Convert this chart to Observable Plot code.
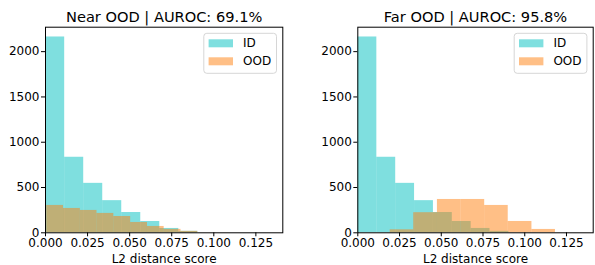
<!DOCTYPE html>
<html><head><meta charset="utf-8">
<script src="https://cdn.jsdelivr.net/npm/d3@7"></script>
<script src="https://cdn.jsdelivr.net/npm/@observablehq/plot@0.6"></script>
<style>
body{margin:0;background:#fff;}
#wrap{position:relative;width:595px;height:265px;display:flex;background:#fff;}
#wrap svg{font-family:"DejaVu Sans",sans-serif;color:#000;background:#fff;overflow:visible;}
</style></head><body><div id="wrap"></div>
<script>
// ---- data ----
const idEdges = [0.0001, 0.0114, 0.0227, 0.0340, 0.0453, 0.0566, 0.0679, 0.0792, 0.0905];
const idCounts = [2162, 834, 546, 355, 224, 125, 48, 16];
const nearEdges = [0.0007, 0.0107, 0.0207, 0.0306, 0.0406, 0.0506, 0.0606, 0.0705, 0.0805, 0.0905];
const nearCounts = [302, 269, 247, 214, 180, 114, 70, 38, 16];
const farEdges = [0.0194, 0.0335, 0.0477, 0.0618, 0.0760, 0.0901, 0.1043, 0.1184];
const farCounts = [33, 222, 368, 368, 302, 125, 37];
const titles = ["Near OOD | AUROC: 69.1%", "Far OOD | AUROC: 95.8%"];
const seriesNames = ["ID", "OOD"];
const xTicks = [0, 0.025, 0.05, 0.075, 0.1, 0.125];
const yTicks = [0, 500, 1000, 1500, 2000];
const xLabel = "L2 distance score";

const ID_COLOR = "#00bfbf", OOD_COLOR = "#ff7f0e";

function bins(edges, counts) {
  return counts.map((c, i) => ({x1: edges[i], x2: edges[i + 1], count: c}));
}

const panels = [
  {title: titles[0], ood: bins(nearEdges, nearCounts), width: 300, ml: 45, mr: 17.7},
  {title: titles[1], ood: bins(farEdges, farCounts), width: 295, ml: 57.3, mr: 2.3}
];
const idBins = bins(idEdges, idCounts);

const wrap = document.getElementById("wrap");
for (const p of panels) {
  const plot = Plot.plot({
    width: p.width, height: 265,
    marginLeft: p.ml, marginRight: p.mr, marginTop: 26.7, marginBottom: 32.7,
    style: {fontSize: "12px", fontFamily: "DejaVu Sans, sans-serif", background: "#fff", color: "#000"},
    x: {domain: [0, 0.141], ticks: xTicks, tickFormat: d3.format(".3f"), tickSize: 4, tickPadding: 2,
        label: xLabel, labelAnchor: "center", labelArrow: "none", labelOffset: 30},
    y: {domain: [0, 2270], ticks: yTicks, tickFormat: d => String(d), tickSize: 4, tickPadding: 2, label: null},
    marks: [
      Plot.rectY(idBins, {x1: "x1", x2: "x2", y: "count", fill: ID_COLOR, fillOpacity: 0.5}),
      Plot.rectY(p.ood, {x1: "x1", x2: "x2", y: "count", fill: OOD_COLOR, fillOpacity: 0.5}),
      Plot.frame({stroke: "#000", strokeWidth: 1}),
      Plot.text([p.title], {text: d => d, frameAnchor: "top", dy: -10, lineAnchor: "middle", fontSize: 14.6, fill: "#000"})
    ]
  });
  wrap.appendChild(plot);

  // legend (upper right, matplotlib style)
  const [, xr] = plot.scale("x").range;
  const yt = 26.7;
  const svg = d3.select(plot);
  const g = svg.append("g").attr("transform", `translate(${xr - 79},${yt + 6.6})`)
    .attr("text-anchor", "start");
  g.append("rect").attr("x", 0.5).attr("y", 0).attr("width", 72.7).attr("height", 40)
    .attr("rx", 3).attr("fill", "#fff").attr("fill-opacity", 0.8).attr("stroke", "#d6d6d6").attr("stroke-width", 1);
  [ID_COLOR, OOD_COLOR].forEach((c, i) => {
    g.append("rect").attr("x", 5.3).attr("y", 6 + i * 18).attr("width", 24.4).attr("height", 8)
      .attr("fill", c).attr("fill-opacity", 0.5);
    g.append("text").attr("x", 39.7).attr("y", 10 + i * 18).attr("dy", "0.35em")
      .attr("text-anchor", "start").attr("font-size", 12).attr("fill", "#000").text(seriesNames[i]);
  });
}
</script></body></html>
